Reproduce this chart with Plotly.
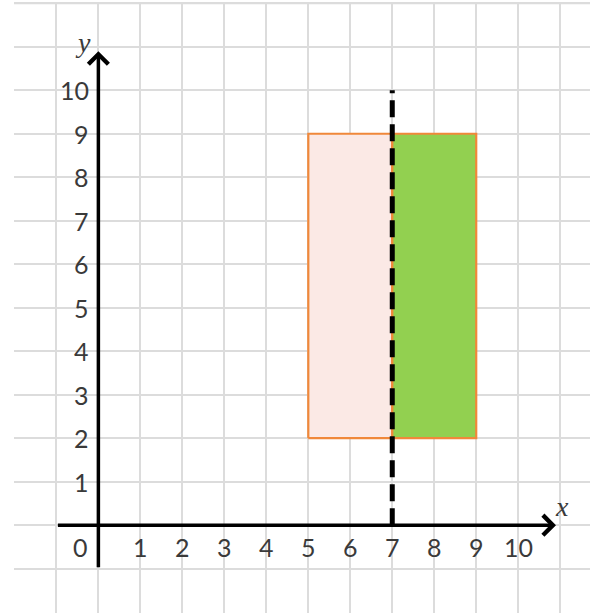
import plotly.graph_objects as go

# ---- data ----
x_tick_values = [1, 2, 3, 4, 5, 6, 7, 8, 9, 10]
y_tick_values = [1, 2, 3, 4, 5, 6, 7, 8, 9, 10]
original_x = [5, 7]          # pink rectangle x extent
original_y = [2, 9]          # pink rectangle y extent
image_x = [7, 9]             # green (reflected) rectangle x extent
image_y = [2, 9]
mirror_x = 7                 # mirror line x = 7
mirror_y = [0, 10]
axis_min = -1
axis_max = 10.9
grid_top = 12

GRID = "#dcdcdc"
ORANGE = "#f0883a"
PINK = "#fbe9e5"
GREEN = "#92d050"
TXT = "#3a3a3a"
NUMFONT = dict(family="Lato, 'Open Sans', sans-serif", size=25, color=TXT)

fig = go.Figure()

def rect_trace(xs, ys, fill):
    x0, x1 = xs
    y0, y1 = ys
    return go.Scatter(
        x=[x0, x1, x1, x0, x0], y=[y0, y0, y1, y1, y0],
        mode="lines", fill="toself", fillcolor=fill,
        line=dict(color=ORANGE, width=2.2), hoverinfo="skip", showlegend=False)

fig.add_trace(rect_trace(original_x, original_y, PINK))
fig.add_trace(rect_trace(image_x, image_y, GREEN))

# mirror line
fig.add_trace(go.Scatter(
    x=[mirror_x, mirror_x], y=mirror_y, mode="lines",
    line=dict(color="black", width=5, dash="17px,7px"),
    hoverinfo="skip", showlegend=False))

# top grid edge
fig.add_shape(type="line", xref="paper", x0=0, x1=1, yref="y",
              y0=grid_top, y1=grid_top, line=dict(color=GRID, width=2),
              layer="below")

# axes with arrows
fig.add_annotation(x=axis_max, y=0, ax=axis_min, ay=0, xref="x", yref="y",
                   axref="x", ayref="y", showarrow=True, arrowhead=4,
                   arrowsize=1.1, arrowwidth=3.5, arrowcolor="black", text="")
fig.add_annotation(x=0, y=axis_max, ax=0, ay=axis_min, xref="x", yref="y",
                   axref="x", ayref="y", showarrow=True, arrowhead=4,
                   arrowsize=1.1, arrowwidth=3.5, arrowcolor="black", text="")

# tick labels
for v in x_tick_values:
    fig.add_annotation(x=v, y=-0.5, text=str(v), showarrow=False,
                       font=NUMFONT, xanchor="center", yanchor="middle")
for v in y_tick_values:
    fig.add_annotation(x=-0.17, y=v, text=str(v), showarrow=False,
                       font=NUMFONT, xanchor="right", yanchor="middle")
fig.add_annotation(x=-0.43, y=-0.5, text="0", showarrow=False,
                   font=NUMFONT, xanchor="center", yanchor="middle")

# axis titles
AXFONT = dict(family="'Liberation Serif', 'DejaVu Serif', serif", size=28, color=TXT)
fig.add_annotation(x=11.05, y=0.42, text="<i>x</i>", showarrow=False,
                   font=AXFONT, xanchor="center", yanchor="middle")
fig.add_annotation(x=-0.36, y=11.1, text="<i>y</i>", showarrow=False,
                   font=AXFONT, xanchor="center", yanchor="middle")

fig.update_layout(
    width=590, height=613,
    margin=dict(l=14, r=0, t=2, b=0),
    plot_bgcolor="white", paper_bgcolor="white",
    xaxis=dict(range=[-2.01, 11.71], dtick=1, tick0=0, showgrid=True,
               gridcolor=GRID, gridwidth=2, zeroline=False,
               showticklabels=False, ticks="", showline=False, fixedrange=True),
    yaxis=dict(range=[-2.02, 12.03], dtick=1, tick0=0, showgrid=True,
               gridcolor=GRID, gridwidth=2, zeroline=False,
               showticklabels=False, ticks="", showline=False, fixedrange=True),
    showlegend=False,
)

fig.write_html("out.html", config={"displayModeBar": False},
               post_script="document.body.style.margin='0';")
